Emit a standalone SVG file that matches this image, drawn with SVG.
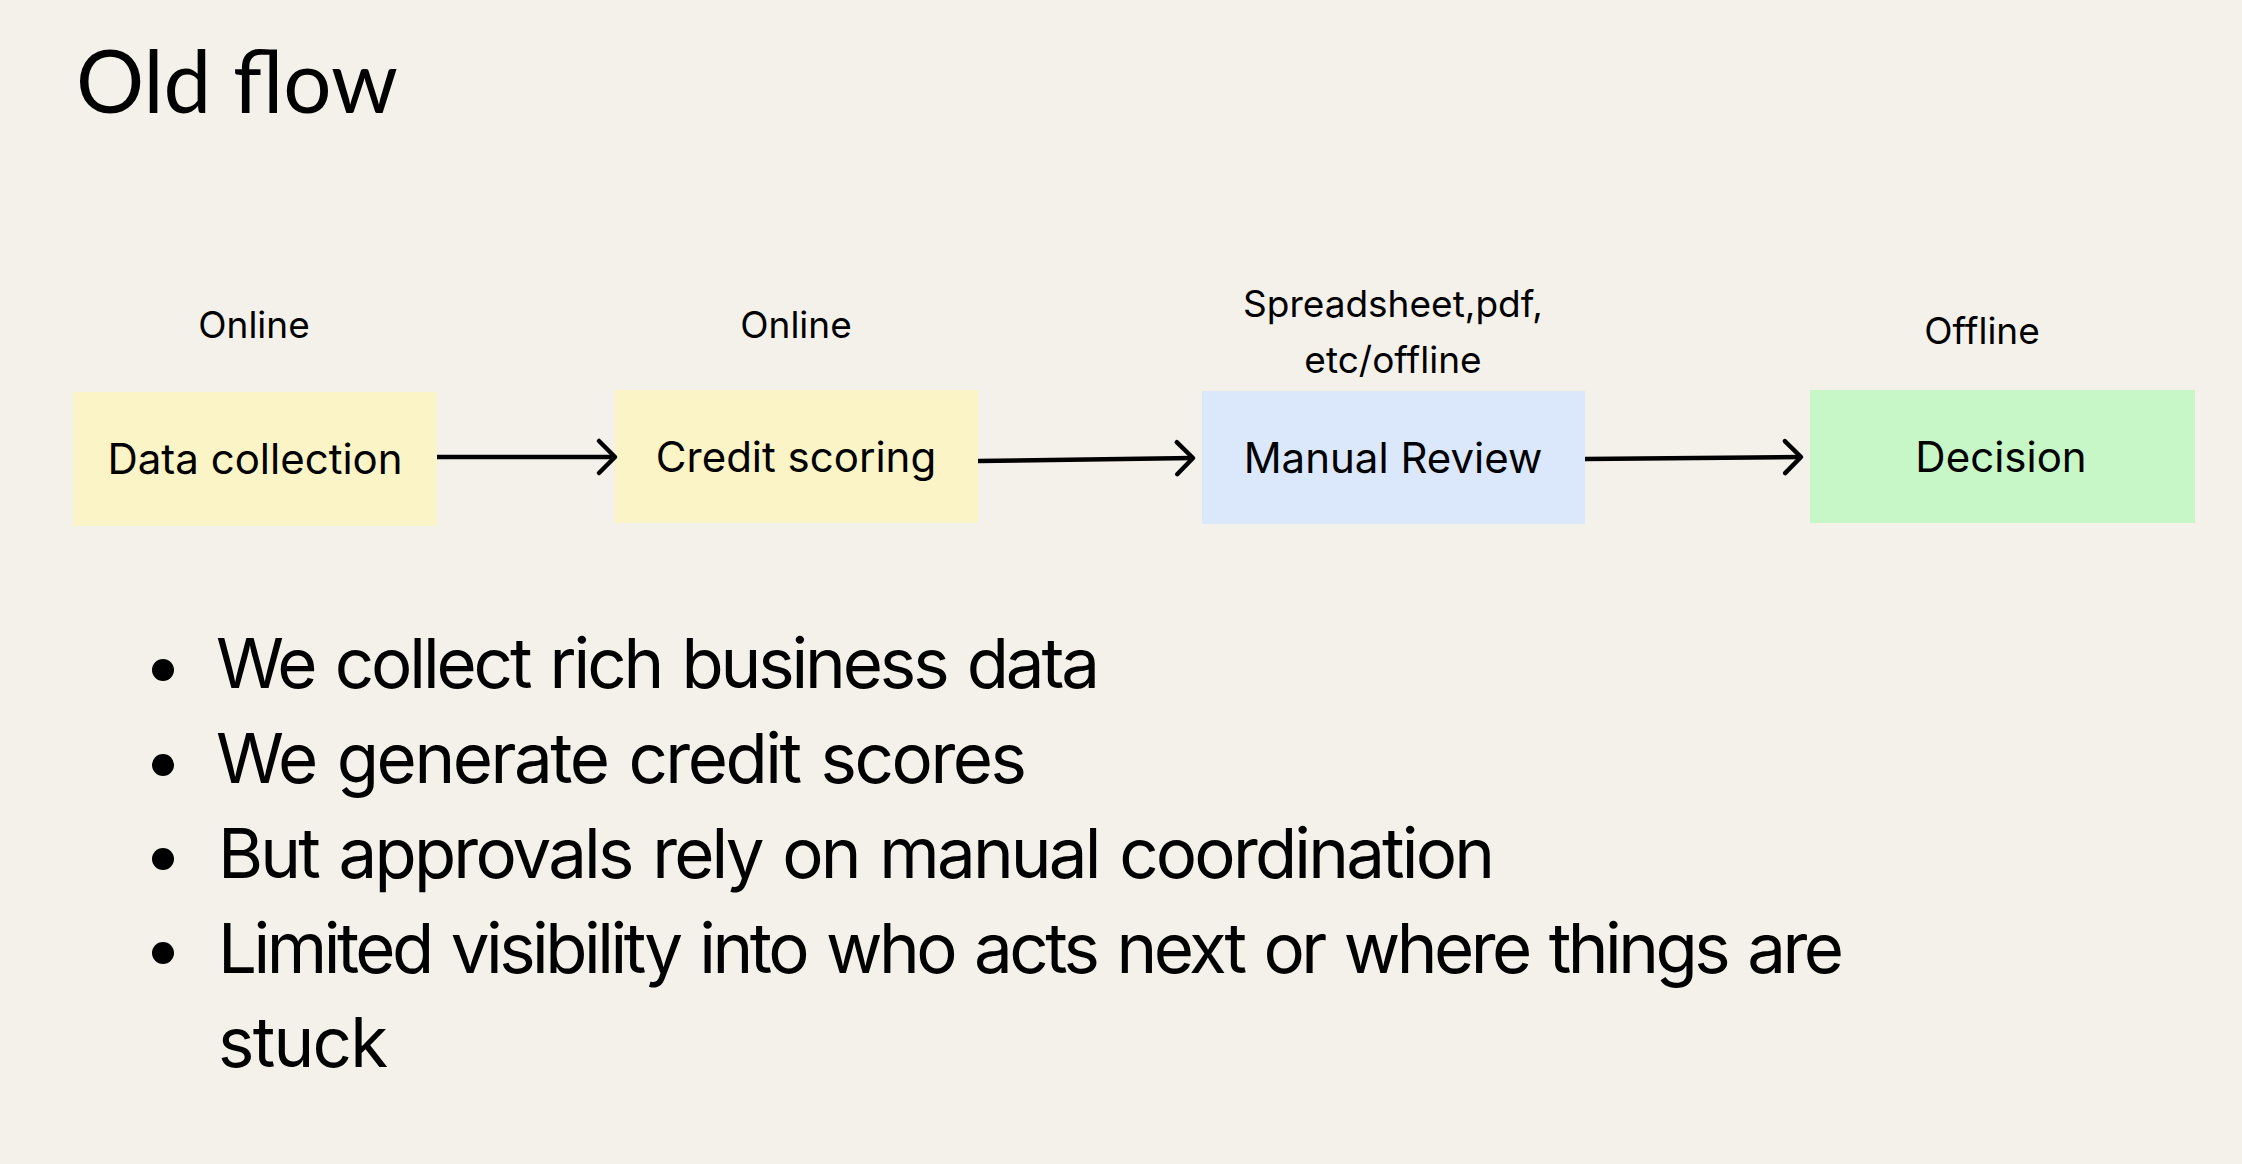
<svg xmlns="http://www.w3.org/2000/svg" width="2242" height="1164" viewBox="0 0 2242 1164">
  <style>
    .bg { fill: #F3F1EA; }
    .title { font-family: Lato, "Noto Sans", sans-serif; font-size: 88px; fill: #000; }
    .lbl { font-family: Inter, "Noto Sans", sans-serif; font-size: 37px; fill: #000; text-anchor: middle; }
    .box-text { font-family: Inter, "Noto Sans", sans-serif; font-size: 42px; fill: #000; text-anchor: middle; }
    .yellow { fill: #FAF4C6; }
    .blue { fill: #DBE8FC; }
    .green { fill: #C7F7C7; }
    .conn { stroke: #000; stroke-width: 4.5; fill: none; }
    .bullet-text { font-family: Inter, "Noto Sans", sans-serif; font-size: 69px; fill: #000; letter-spacing: -2px; word-spacing: 4px; }
    .dot { fill: #000; }
  </style>
  <defs>
    <marker id="arrow" viewBox="0 0 22 36" refX="18" refY="18" markerWidth="22" markerHeight="36" markerUnits="userSpaceOnUse" orient="auto" style="overflow:visible">
      <path d="M2,2 L18,18 L2,34" fill="none" stroke="#000" stroke-width="4.5" stroke-linecap="round" stroke-linejoin="round"/>
    </marker>
  </defs>
  <rect class="bg" x="0" y="0" width="2242" height="1164"/>

  <text class="title" x="76" y="113" textLength="322" lengthAdjust="spacingAndGlyphs">Old flow</text>

  <g id="node-data-collection">
    <text class="lbl" x="254" y="338">Online</text>
    <rect class="yellow" x="73" y="392" width="364" height="134"/>
    <text class="box-text" x="255" y="474">Data collection</text>
  </g>
  <g id="node-credit-scoring">
    <text class="lbl" x="796" y="338">Online</text>
    <rect class="yellow" x="615" y="390" width="363" height="133"/>
    <text class="box-text" x="796" y="472">Credit scoring</text>
  </g>
  <g id="node-manual-review">
    <text class="lbl" x="1393" y="317">Spreadsheet,pdf,</text>
    <text class="lbl" x="1393" y="373">etc/offline</text>
    <rect class="blue" x="1202" y="391" width="383" height="133"/>
    <text class="box-text" x="1393" y="473">Manual Review</text>
  </g>
  <g id="node-decision">
    <text class="lbl" x="1982" y="344">Offline</text>
    <rect class="green" x="1810" y="390" width="385" height="133"/>
    <text class="box-text" x="2001" y="472">Decision</text>
  </g>

  <g id="connectors">
    <line class="conn" x1="437" y1="457" x2="615" y2="457" marker-end="url(#arrow)"/>
    <line class="conn" x1="978" y1="461" x2="1193" y2="458" marker-end="url(#arrow)"/>
    <line class="conn" x1="1585" y1="459" x2="1801" y2="457" marker-end="url(#arrow)"/>
  </g>

  <g id="bullets">
    <circle class="dot" cx="163" cy="670" r="11"/>
    <text class="bullet-text" x="216" y="688" textLength="882" lengthAdjust="spacing">We collect rich business data</text>
    <circle class="dot" cx="163" cy="765" r="11"/>
    <text class="bullet-text" x="216" y="783" textLength="809" lengthAdjust="spacing">We generate credit scores</text>
    <circle class="dot" cx="163" cy="859" r="11"/>
    <text class="bullet-text" x="218" y="878" textLength="1275" lengthAdjust="spacing">But approvals rely on manual coordination</text>
    <circle class="dot" cx="163" cy="953" r="11"/>
    <text class="bullet-text" x="218" y="973" textLength="1624" lengthAdjust="spacing">Limited visibility into who acts next or where things are</text>
    <text class="bullet-text" x="218" y="1067" textLength="168" lengthAdjust="spacing">stuck</text>
  </g>
</svg>
